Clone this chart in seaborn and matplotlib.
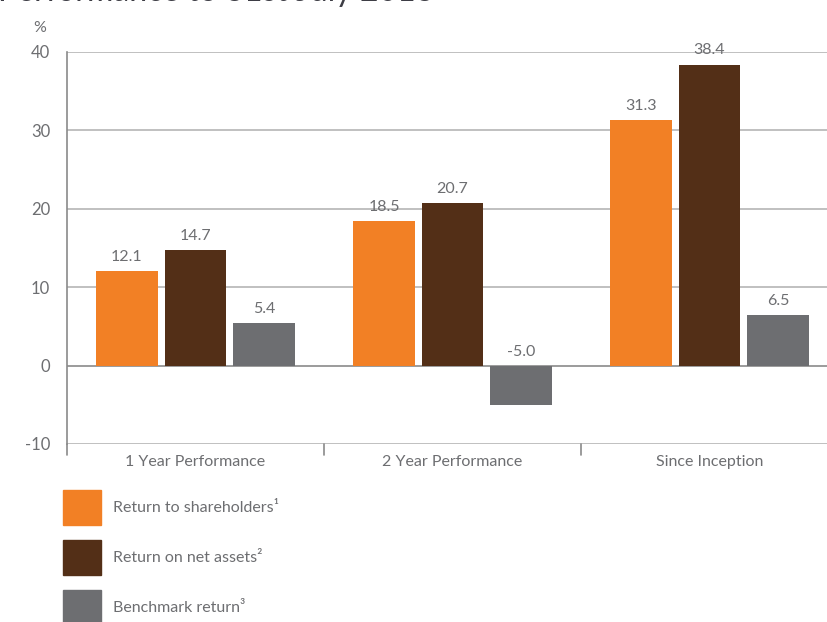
import matplotlib
matplotlib.use("Agg")
import matplotlib.pyplot as plt
import seaborn as sns
import pandas as pd

categories = ["1 Year Performance", "2 Year Performance", "Since Inception"]
series_names = ["Return to shareholders¹", "Return on net assets²", "Benchmark return³"]
shareholders = [12.1, 18.5, 31.3]
net_assets = [14.7, 20.7, 38.4]
benchmark = [5.4, -5.0, 6.5]
yticks = [-10, 0, 10, 20, 30, 40]
colors = ["#F28025", "#532F17", "#6D6E71"]

rows = []
for s, vals in zip(series_names, [shareholders, net_assets, benchmark]):
    for c, v in zip(categories, vals):
        rows.append({"Category": c, "Series": s, "Value": v})
df = pd.DataFrame(rows)

sns.set_theme(style="white")
plt.rcParams["font.family"] = ["Lato", "DejaVu Sans"]
text_col = "#6D6E71"

W, H = 828, 622
fig = plt.figure(figsize=(W / 100, H / 100), dpi=100)
ax_left, ax_right = 67, 838
ax_top, ax_bot = 52, 444
ax = fig.add_axes([ax_left / W, 1 - ax_bot / H, (ax_right - ax_left) / W, (ax_bot - ax_top) / H])

sns.barplot(data=df, x="Category", y="Value", hue="Series", palette=colors,
            width=0.8, gap=0.1, ax=ax, legend=False, saturation=1, zorder=3,
            linewidth=0, edgecolor="none")

ax.set_ylim(-10, 40)
ax.set_xlim(-0.5, 2.5)
ax.set_yticks(yticks)
ax.set_yticklabels([str(t) for t in yticks], color=text_col, fontsize=12)
for t in yticks:
    ax.axhline(t, color="#B5B5B5" if t != 0 else "#8A8A8A", lw=1.2, zorder=1)

for sp in ["top", "right", "bottom"]:
    ax.spines[sp].set_visible(False)
ax.spines["left"].set_color("#8A8A8A")
ax.spines["left"].set_linewidth(1.2)
ax.spines["left"].set_bounds(-10, 40)
ax.tick_params(axis="y", length=0, pad=12)
ax.tick_params(axis="x", length=0, pad=8)
ax.set_xticks(range(len(categories)))
ax.set_xticklabels(categories, color=text_col, fontsize=11.5)
ax.set_xlabel("")
ax.set_ylabel("")

# category boundary ticks below the axis
for b in [-0.5, 0.5, 1.5]:
    ax.plot([b, b], [-10, -11.4], color="#8A8A8A", lw=1.2, clip_on=False, zorder=4)

# value labels
for cont in ax.containers:
    for bar in cont:
        v = bar.get_height()
        x = bar.get_x() + bar.get_width() / 2
        y = max(v, 0) + 0.9
        ax.text(x, y, f"{v:.1f}", ha="center", va="bottom", color=text_col, fontsize=11.5, zorder=5)

# % label
fig.text(40 / W, 1 - 28 / H, "%", ha="center", va="center", color=text_col, fontsize=11.5)

# title (cut off at top)
fig.text(-2 / W, 1 - 1 / H, "Performance to 31st July 2013", ha="left", va="baseline",
         color="#3D3D45", fontsize=23)

# legend
for i, (name, col) in enumerate(zip(series_names, colors)):
    ytop = 490 + i * 50
    fig.patches.append(plt.Rectangle((63 / W, 1 - (ytop + 35) / H), 38 / W, 35 / H,
                                     transform=fig.transFigure, color=col, figure=fig))
    fig.text(113 / W, 1 - (ytop + 18) / H, name, ha="left", va="center", color=text_col, fontsize=11.5)

fig.savefig("out.png", dpi=100)
